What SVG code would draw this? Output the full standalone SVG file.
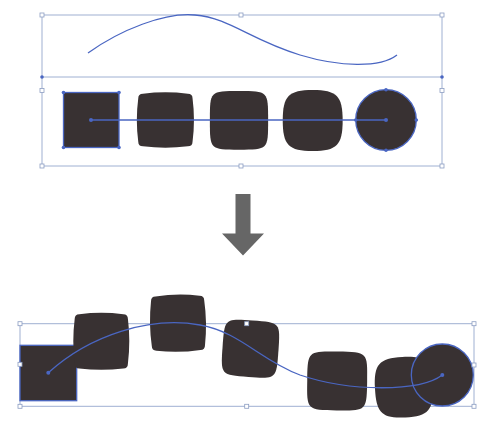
<svg xmlns="http://www.w3.org/2000/svg" width="499" height="422" viewBox="0 0 499 422">
<style>
.shape{fill:#383132}
.box{fill:none;stroke:#9fb0d2;stroke-width:1}
.handle{fill:#ffffff;stroke:#8c9dc2;stroke-width:0.8}
.sel{fill:none;stroke:#4a66c2;stroke-width:1.3}
.dot{fill:#4a66c2}
</style>
<defs>
<path id="sA" d="M-22,-26.6 Q0,-29.4 22,-26.6 Q26.6,-26.6 26.6,-22 Q29.4,0 26.6,22 Q26.6,26.6 22,26.6 Q0,29.4 -22,26.6 Q-26.6,26.6 -26.6,22 Q-29.4,0 -26.6,-22 Q-26.6,-26.6 -22,-26.6 Z"/>
<path id="sB" d="M0,-28 C28,-28 28,-28 28,0 C28,28 28,28 0,28 C-28,28 -28,28 -28,0 C-28,-28 -28,-28 0,-28 Z"/>
<path id="sC" d="M0,-28 C22.5,-28 28,-22.5 28,0 C28,22.5 22.5,28 0,28 C-22.5,28 -28,22.5 -28,0 C-28,-22.5 -22.5,-28 0,-28 Z"/>
</defs>

<!-- top panel -->
<g id="top-path">
<rect class="box" x="42" y="15" width="400" height="151"/>
<line class="box" x1="42" y1="77" x2="442" y2="77" stroke="#7f93c8"/>
<circle class="dot" cx="42" cy="77" r="1.8"/>
<circle class="dot" cx="442" cy="77" r="1.8"/>
<path class="sel" d="M88,53 C120,30 165,12 195,15 C230,18 250,40 300,55 C340,67 380,68 397,55"/>
</g>

<g id="top-square">
<rect class="shape" x="63.5" y="92.5" width="55.5" height="55"/>
<rect class="sel" x="63.5" y="92.5" width="55.5" height="55"/>
</g>
<g id="top-blend1"><use href="#sA" class="shape" transform="translate(165.4,120) scale(1.02,0.99)"/></g>
<g id="top-blend2"><use href="#sB" class="shape" transform="translate(239,120.3) scale(1.04,1.05)"/></g>
<g id="top-blend3"><use href="#sC" class="shape" transform="translate(312.7,120.5) scale(1.07,1.09)"/></g>
<g id="top-circle">
<circle class="shape" cx="386" cy="120" r="30.3"/>
<circle class="sel" cx="386" cy="120" r="30.3"/>
</g>

<g id="top-spine">
<line class="sel" x1="91" y1="120" x2="386" y2="120"/>
<circle class="dot" cx="91" cy="120" r="2"/>
<circle class="dot" cx="386" cy="120" r="2"/>
<circle class="dot" cx="63.5" cy="92.5" r="1.8"/>
<circle class="dot" cx="119" cy="92.5" r="1.8"/>
<circle class="dot" cx="63.5" cy="147.5" r="1.8"/>
<circle class="dot" cx="119" cy="147.5" r="1.8"/>
<circle class="dot" cx="386" cy="89.7" r="1.8"/>
<circle class="dot" cx="386" cy="150.3" r="1.8"/>
<circle class="dot" cx="355.7" cy="120" r="1.8"/>
<circle class="dot" cx="416.3" cy="120" r="1.8"/>
</g>

<g id="top-handles">
<rect class="handle" x="40" y="13" width="4" height="4"/>
<rect class="handle" x="239" y="13" width="4" height="4"/>
<rect class="handle" x="440" y="13" width="4" height="4"/>
<rect class="handle" x="40" y="88.5" width="4" height="4"/>
<rect class="handle" x="440" y="88.5" width="4" height="4"/>
<rect class="handle" x="40" y="164" width="4" height="4"/>
<rect class="handle" x="239" y="164" width="4" height="4"/>
<rect class="handle" x="440" y="164" width="4" height="4"/>
</g>

<!-- arrow -->
<g id="arrow">
<polygon fill="#666666" points="235.5,194 250.5,194 250.5,233.5 264,233.5 243,255.5 222,233.5 235.5,233.5"/>
</g>

<!-- bottom panel -->
<g id="bottom-box">
<rect class="box" x="20" y="323.7" width="454" height="82.6"/>
</g>
<g id="bottom-square">
<rect class="shape" x="20" y="345.3" width="56.7" height="55.4"/>
<rect class="sel" x="20" y="345.3" width="56.7" height="55.4"/>
</g>
<g id="bottom-blend1"><use href="#sA" class="shape" transform="translate(101.3,341.3) scale(1,1.02)"/></g>
<g id="bottom-blend2"><use href="#sA" class="shape" transform="translate(178,323.2) rotate(-1) scale(1,1.02)"/></g>
<g id="bottom-blend3"><use href="#sB" class="shape" transform="translate(250.5,348.8) rotate(4) scale(1,1.01)"/></g>
<g id="bottom-blend4"><use href="#sB" class="shape" transform="translate(337.2,381) rotate(1) scale(1.07,1.05)"/></g>
<g id="bottom-blend5"><use href="#sC" class="shape" transform="translate(403.8,387.2) rotate(-3) scale(1.03,1.08)"/></g>
<g id="bottom-circle">
<circle class="shape" cx="442.3" cy="375" r="31"/>
<circle class="sel" cx="442.3" cy="375" r="31"/>
</g>
<g id="connectors">
<path class="sel" d="M48.3,372.7 C90,335 150,316 200,325 C240,332 260,360 300,375 C350,392 420,392 442.3,375"/>
<circle class="dot" cx="48.3" cy="372.7" r="2"/>
<circle class="dot" cx="442.3" cy="375" r="2"/>
</g>
<g id="bottom-handles">
<rect class="handle" x="18" y="321.7" width="4" height="4"/>
<rect class="handle" x="244.7" y="321.7" width="4" height="4"/>
<rect class="handle" x="472" y="321.7" width="4" height="4"/>
<rect class="handle" x="18" y="362.3" width="4" height="4"/>
<rect class="handle" x="472" y="363" width="4" height="4"/>
<rect class="handle" x="18" y="404.3" width="4" height="4"/>
<rect class="handle" x="244.7" y="404.3" width="4" height="4"/>
<rect class="handle" x="472" y="404.3" width="4" height="4"/>
</g>
</svg>
